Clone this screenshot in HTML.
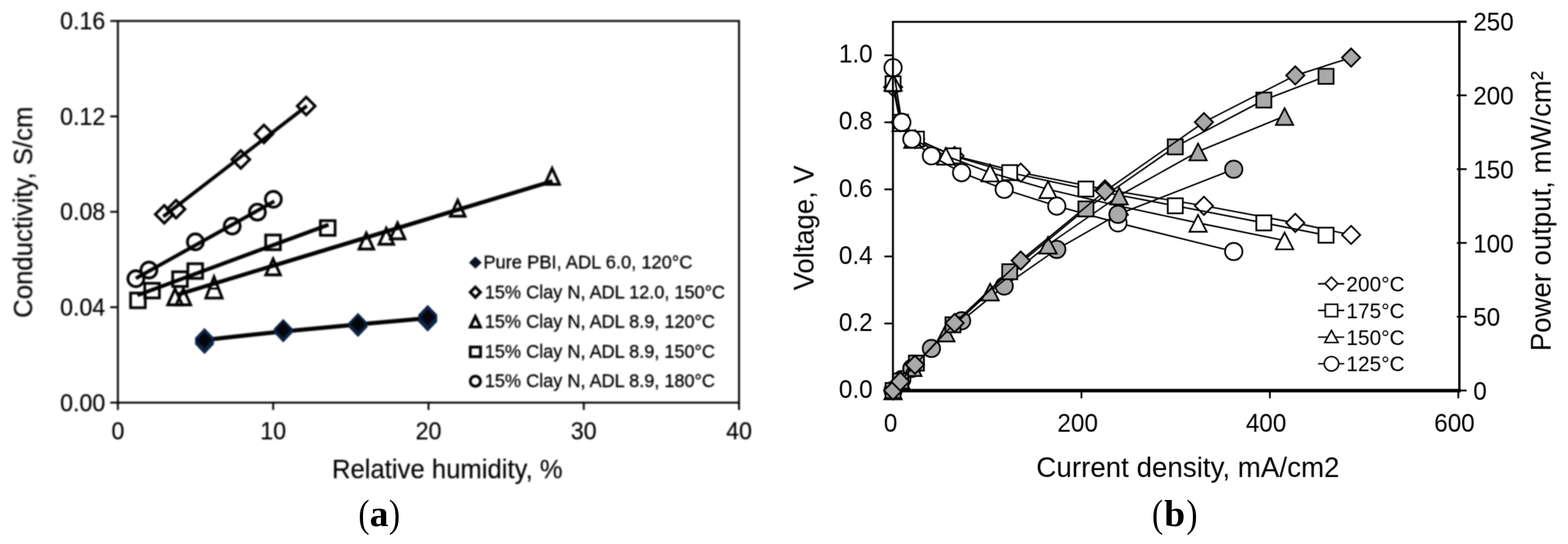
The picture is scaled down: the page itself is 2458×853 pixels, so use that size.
<!DOCTYPE html>
<html lang="en">
<head>
<meta charset="utf-8">
<title>Figure: conductivity and polarization curves</title>
<style>
html,body{margin:0;padding:0;background:#ffffff;}
body{width:2458px;height:853px;overflow:hidden;}
svg{display:block;font-family:'Liberation Sans', sans-serif;}
</style>
</head>
<body>
<svg width="2458" height="853" viewBox="0 0 2458 853">
<defs>
<filter id="soften" filterUnits="userSpaceOnUse" x="1200" y="0" width="1258" height="780" color-interpolation-filters="sRGB">
<feConvolveMatrix order="3" kernelMatrix="0 1 0 1 4 1 0 1 0" divisor="8" edgeMode="duplicate" preserveAlpha="false"/>
</filter>
</defs>
<rect x="0" y="0" width="2458" height="853" fill="#ffffff"/>
<g id="chart-a" style="filter:blur(1px)">
<rect x="184.8" y="32.9" width="973.7" height="598.4" fill="none" stroke="#000000" stroke-width="3"/>
<line x1="172.8" y1="631.3" x2="184.8" y2="631.3" stroke="#000000" stroke-width="3"/>
<text transform="translate(165,644.5) scale(1,1.06)" text-anchor="end" font-size="36.4" fill="#000000" stroke="#000" stroke-width="0.22" stroke-linejoin="round">0.00</text>
<line x1="172.8" y1="481.7" x2="184.8" y2="481.7" stroke="#000000" stroke-width="3"/>
<text transform="translate(165,494.9) scale(1,1.06)" text-anchor="end" font-size="36.4" fill="#000000" stroke="#000" stroke-width="0.22" stroke-linejoin="round">0.04</text>
<line x1="172.8" y1="332.1" x2="184.8" y2="332.1" stroke="#000000" stroke-width="3"/>
<text transform="translate(165,345.3) scale(1,1.06)" text-anchor="end" font-size="36.4" fill="#000000" stroke="#000" stroke-width="0.22" stroke-linejoin="round">0.08</text>
<line x1="172.8" y1="182.5" x2="184.8" y2="182.5" stroke="#000000" stroke-width="3"/>
<text transform="translate(165,195.7) scale(1,1.06)" text-anchor="end" font-size="36.4" fill="#000000" stroke="#000" stroke-width="0.22" stroke-linejoin="round">0.12</text>
<line x1="172.8" y1="32.9" x2="184.8" y2="32.9" stroke="#000000" stroke-width="3"/>
<text transform="translate(165,46.1) scale(1,1.06)" text-anchor="end" font-size="36.4" fill="#000000" stroke="#000" stroke-width="0.22" stroke-linejoin="round">0.16</text>
<line x1="184.8" y1="631.3" x2="184.8" y2="642.8" stroke="#000000" stroke-width="3"/>
<text transform="translate(184.8,689) scale(1,1.06)" text-anchor="middle" font-size="36.4" fill="#000000" stroke="#000" stroke-width="0.22" stroke-linejoin="round">0</text>
<line x1="428.2" y1="631.3" x2="428.2" y2="642.8" stroke="#000000" stroke-width="3"/>
<text transform="translate(428.2,689) scale(1,1.06)" text-anchor="middle" font-size="36.4" fill="#000000" stroke="#000" stroke-width="0.22" stroke-linejoin="round">10</text>
<line x1="671.7" y1="631.3" x2="671.7" y2="642.8" stroke="#000000" stroke-width="3"/>
<text transform="translate(671.7,689) scale(1,1.06)" text-anchor="middle" font-size="36.4" fill="#000000" stroke="#000" stroke-width="0.22" stroke-linejoin="round">20</text>
<line x1="915.1" y1="631.3" x2="915.1" y2="642.8" stroke="#000000" stroke-width="3"/>
<text transform="translate(915.1,689) scale(1,1.06)" text-anchor="middle" font-size="36.4" fill="#000000" stroke="#000" stroke-width="0.22" stroke-linejoin="round">30</text>
<line x1="1158.5" y1="631.3" x2="1158.5" y2="642.8" stroke="#000000" stroke-width="3"/>
<text transform="translate(1158.5,689) scale(1,1.06)" text-anchor="middle" font-size="36.4" fill="#000000" stroke="#000" stroke-width="0.22" stroke-linejoin="round">40</text>
<text transform="translate(520.4,750.3) scale(1,1.04)" font-size="40.1" textLength="361.6" lengthAdjust="spacing" fill="#000000" stroke="#000" stroke-width="0.22" stroke-linejoin="round">Relative humidity, %</text>
<text transform="translate(51,332.7) rotate(-90) scale(1,1.04)" text-anchor="middle" font-size="40.4" fill="#000000" stroke="#000" stroke-width="0.22" stroke-linejoin="round">Conductivity, S/cm</text>
<polyline points="320.6,533.0 332.8,531.7 380,526.5 431.3,521.0 500,514.5 580,507.0 655.4,500.2 670.5,498.9" fill="none" stroke="#000000" stroke-width="6.6" stroke-linejoin="round"/>
<line x1="256" y1="339.5" x2="481" y2="166" stroke="#000000" stroke-width="5.5" stroke-linecap="butt"/>
<line x1="213" y1="436.5" x2="430" y2="315.5" stroke="#000000" stroke-width="5.7" stroke-linecap="butt"/>
<line x1="215.5" y1="463" x2="515" y2="352.3" stroke="#000000" stroke-width="6.1" stroke-linecap="butt"/>
<line x1="278.5" y1="462" x2="866" y2="284" stroke="#000000" stroke-width="6.4" stroke-linecap="butt"/>
<path d="M243.5,336 L257.5,322 L271.5,336 L257.5,350 Z" fill="none" stroke="#000000" stroke-width="4.3"/>
<path d="M262,328 L276,314 L290,328 L276,342 Z" fill="none" stroke="#000000" stroke-width="4.3"/>
<path d="M363.5,250 L377.5,236 L391.5,250 L377.5,264 Z" fill="none" stroke="#000000" stroke-width="4.3"/>
<path d="M399.75,210 L413.75,196 L427.75,210 L413.75,224 Z" fill="none" stroke="#000000" stroke-width="4.3"/>
<path d="M466,166.3 L480,152.3 L494,166.3 L480,180.3 Z" fill="none" stroke="#000000" stroke-width="4.3"/>
<circle cx="213" cy="437" r="12.5" fill="none" stroke="#000000" stroke-width="4.3"/>
<circle cx="233.5" cy="423.5" r="12.5" fill="none" stroke="#000000" stroke-width="4.3"/>
<circle cx="306.25" cy="379.25" r="12.5" fill="none" stroke="#000000" stroke-width="4.3"/>
<circle cx="364" cy="354.5" r="12.5" fill="none" stroke="#000000" stroke-width="4.3"/>
<circle cx="403.5" cy="332.7" r="12.5" fill="none" stroke="#000000" stroke-width="4.3"/>
<circle cx="428.5" cy="312.5" r="12.5" fill="none" stroke="#000000" stroke-width="4.3"/>
<rect x="204.7" y="459.5" width="23.0" height="23.0" fill="none" stroke="#000000" stroke-width="4.3"/>
<rect x="226.9" y="444.2" width="23.0" height="23.0" fill="none" stroke="#000000" stroke-width="4.3"/>
<rect x="270.7" y="426.2" width="23.0" height="23.0" fill="none" stroke="#000000" stroke-width="4.3"/>
<rect x="294.5" y="413.5" width="23.0" height="23.0" fill="none" stroke="#000000" stroke-width="4.3"/>
<rect x="416.5" y="368.5" width="23.0" height="23.0" fill="none" stroke="#000000" stroke-width="4.3"/>
<rect x="502.25" y="346.0" width="23.0" height="23.0" fill="none" stroke="#000000" stroke-width="4.3"/>
<path d="M274.4,453.0 L285.9,478.0 L262.9,478.0 Z" fill="none" stroke="#000000" stroke-width="4.3" stroke-linejoin="miter"/>
<path d="M287.5,453.0 L299.0,478.0 L276.0,478.0 Z" fill="none" stroke="#000000" stroke-width="4.3" stroke-linejoin="miter"/>
<path d="M428.1,406.0 L439.6,431.0 L416.6,431.0 Z" fill="none" stroke="#000000" stroke-width="4.3" stroke-linejoin="miter"/>
<path d="M574.2,365.5 L585.8,390.5 L562.8,390.5 Z" fill="none" stroke="#000000" stroke-width="4.3" stroke-linejoin="miter"/>
<path d="M605.5,358.0 L617.0,383.0 L594.0,383.0 Z" fill="none" stroke="#000000" stroke-width="4.3" stroke-linejoin="miter"/>
<path d="M623.2,349.5 L634.8,374.5 L611.8,374.5 Z" fill="none" stroke="#000000" stroke-width="4.3" stroke-linejoin="miter"/>
<path d="M717.5,314.0 L729.0,339.0 L706.0,339.0 Z" fill="none" stroke="#000000" stroke-width="4.3" stroke-linejoin="miter"/>
<path d="M865.5,264.0 L877.0,289.0 L854.0,289.0 Z" fill="none" stroke="#000000" stroke-width="4.3" stroke-linejoin="miter"/>
<path d="M335.5,433.9 L348.3,467.4 L322.7,467.4 Z" fill="none" stroke="#000000" stroke-width="4.3" stroke-linejoin="miter"/>
<line x1="328" y1="452.5" x2="343" y2="452.5" stroke="#000000" stroke-width="3"/>
<path d="M305.8,529.7 L320.6,514.2 L335.40000000000003,529.7 L335.40000000000003,539.7 L320.6,555.2 L305.8,539.7 Z" fill="#0c2346"/>
<path d="M308.6,533.2 L320.6,520.7 L332.6,533.2 L320.6,545.7 Z" fill="#04060c"/>
<path d="M429.2,515.5 L444,500.0 L458.8,515.5 L458.8,521.5 L444,537.0 L429.2,521.5 Z" fill="#0c2346"/>
<path d="M432,517.0 L444,504.5 L456,517.0 L444,529.5 Z" fill="#04060c"/>
<path d="M546.4000000000001,505.9 L561.2,490.4 L576.0,505.9 L576.0,512.9 L561.2,528.4 L546.4000000000001,512.9 Z" fill="#0c2346"/>
<path d="M549.2,507.9 L561.2,495.4 L573.2,507.9 L561.2,520.4 Z" fill="#04060c"/>
<path d="M655.7,493.4 L670.5,477.9 L685.3,493.4 L685.3,504.4 L670.5,519.9 L655.7,504.4 Z" fill="#0c2346"/>
<path d="M658.5,497.4 L670.5,484.9 L682.5,497.4 L670.5,509.9 Z" fill="#04060c"/>
<path d="M735.2,411.7 L745.2,402.2 L755.2,411.7 L745.2,421.2 Z" fill="#081226"/>
<text transform="translate(757.7,421.0) scale(1,1.04)" font-size="28.7" fill="#000000" stroke="#000" stroke-width="0.42" stroke-linejoin="round">Pure PBI, ADL 6.0, 120°C</text>
<path d="M737.2,458.2 L745.2,450.2 L753.2,458.2 L745.2,466.2 Z" fill="none" stroke="#000000" stroke-width="4.5"/>
<text transform="translate(760,467.5) scale(1,1.04)" font-size="28.4" fill="#000000" stroke="#000" stroke-width="0.42" stroke-linejoin="round">15% Clay N, ADL 12.0, 150°C</text>
<path d="M745.2,496.2 L753.2,512.7 L737.2,512.7 Z" fill="none" stroke="#000000" stroke-width="4.5"/>
<text transform="translate(760,514.0) scale(1,1.04)" font-size="28.4" fill="#000000" stroke="#000" stroke-width="0.42" stroke-linejoin="round">15% Clay N, ADL 8.9, 120°C</text>
<rect x="737.2" y="544.2" width="16" height="15" fill="none" stroke="#000000" stroke-width="4.5"/>
<text transform="translate(760,560.5) scale(1,1.04)" font-size="28.4" fill="#000000" stroke="#000" stroke-width="0.42" stroke-linejoin="round">15% Clay N, ADL 8.9, 150°C</text>
<circle cx="745.2" cy="597.7" r="8" fill="none" stroke="#000000" stroke-width="4.5"/>
<text transform="translate(760,607.0) scale(1,1.04)" font-size="28.4" fill="#000000" stroke="#000" stroke-width="0.42" stroke-linejoin="round">15% Clay N, ADL 8.9, 180°C</text>
</g>
<g id="chart-b" filter="url(#soften)">
<text transform="translate(1368.0,623.9) scale(1,1.06)" text-anchor="end" font-size="38.1" fill="#000000">0.0</text>
<text transform="translate(1368.0,518.8) scale(1,1.06)" text-anchor="end" font-size="38.1" fill="#000000">0.2</text>
<text transform="translate(1368.0,413.7) scale(1,1.06)" text-anchor="end" font-size="38.1" fill="#000000">0.4</text>
<text transform="translate(1368.0,308.5) scale(1,1.06)" text-anchor="end" font-size="38.1" fill="#000000">0.6</text>
<text transform="translate(1368.0,203.4) scale(1,1.06)" text-anchor="end" font-size="38.1" fill="#000000">0.8</text>
<text transform="translate(1368.0,98.3) scale(1,1.06)" text-anchor="end" font-size="38.1" fill="#000000">1.0</text>
<text transform="translate(2309.4,626.9) scale(1,1.06)" font-size="38.1" fill="#000000">0</text>
<text transform="translate(2309.4,511.2) scale(1,1.06)" font-size="38.1" fill="#000000">50</text>
<text transform="translate(2309.4,395.5) scale(1,1.06)" font-size="38.1" fill="#000000">100</text>
<text transform="translate(2309.4,279.8) scale(1,1.06)" font-size="38.1" fill="#000000">150</text>
<text transform="translate(2309.4,164.1) scale(1,1.06)" font-size="38.1" fill="#000000">200</text>
<text transform="translate(2309.4,48.4) scale(1,1.06)" font-size="38.1" fill="#000000">250</text>
<text transform="translate(1396.0,677.3) scale(1,1.06)" text-anchor="middle" font-size="38.1" fill="#000000">0</text>
<text transform="translate(1689.3,677.3) scale(1,1.06)" text-anchor="middle" font-size="38.1" fill="#000000">200</text>
<text transform="translate(1984.7,677.3) scale(1,1.06)" text-anchor="middle" font-size="38.1" fill="#000000">400</text>
<text transform="translate(2280.0,677.3) scale(1,1.06)" text-anchor="middle" font-size="38.1" fill="#000000">600</text>
<text transform="translate(1862.2,747.8) scale(1,1.04)" text-anchor="middle" font-size="43.5" fill="#000000">Current density, mA/cm2</text>
<text transform="translate(1275,357.3) rotate(-90) scale(1,1.04)" text-anchor="middle" font-size="43" fill="#000000">Voltage, V</text>
<text transform="translate(2430.5,331.1) rotate(-90) scale(1,1.04)" text-anchor="middle" font-size="43.2" fill="#000000">Power output, mW/cm²</text>
<polyline points="1400.0,136.6 1411.2,191.8 1434.3,218.1 1496.4,244.4 1600.1,270.7 1732.2,296.9 1887.3,322.7 2030.5,349.5 2118.0,368.4" fill="none" stroke="#000000" stroke-width="2.35" stroke-linejoin="round"/>
<path d="M1385.7,136.6 L1400.0,122.3 L1414.3,136.6 L1400.0,150.9 Z" fill="#ffffff" stroke="#000000" stroke-width="2.7"/>
<path d="M1396.9,191.8 L1411.2,177.5 L1425.5,191.8 L1411.2,206.1 Z" fill="#ffffff" stroke="#000000" stroke-width="2.7"/>
<path d="M1420.0,218.1 L1434.3,203.8 L1448.6,218.1 L1434.3,232.4 Z" fill="#ffffff" stroke="#000000" stroke-width="2.7"/>
<path d="M1482.1,244.4 L1496.4,230.1 L1510.7,244.4 L1496.4,258.7 Z" fill="#ffffff" stroke="#000000" stroke-width="2.7"/>
<path d="M1585.8,270.7 L1600.1,256.4 L1614.4,270.7 L1600.1,285.0 Z" fill="#ffffff" stroke="#000000" stroke-width="2.7"/>
<path d="M1718.0,296.9 L1732.2,282.6 L1746.5,296.9 L1732.2,311.2 Z" fill="#ffffff" stroke="#000000" stroke-width="2.7"/>
<path d="M1873.0,322.7 L1887.3,308.4 L1901.6,322.7 L1887.3,337.0 Z" fill="#ffffff" stroke="#000000" stroke-width="2.7"/>
<path d="M2016.2,349.5 L2030.5,335.2 L2044.8,349.5 L2030.5,363.8 Z" fill="#ffffff" stroke="#000000" stroke-width="2.7"/>
<path d="M2103.7,368.4 L2118.0,354.1 L2132.3,368.4 L2118.0,382.7 Z" fill="#ffffff" stroke="#000000" stroke-width="2.7"/>
<polyline points="1400.0,131.4 1411.8,191.8 1436.6,218.1 1493.9,244.4 1582.8,270.7 1702.3,296.4 1842.4,322.7 1981.2,349.5 2078.7,368.8" fill="none" stroke="#000000" stroke-width="2.35" stroke-linejoin="round"/>
<rect x="1388.2" y="119.6" width="23.6" height="23.6" fill="#ffffff" stroke="#000000" stroke-width="2.7"/>
<rect x="1400.0" y="180.0" width="23.6" height="23.6" fill="#ffffff" stroke="#000000" stroke-width="2.7"/>
<rect x="1424.8" y="206.3" width="23.6" height="23.6" fill="#ffffff" stroke="#000000" stroke-width="2.7"/>
<rect x="1482.1" y="232.6" width="23.6" height="23.6" fill="#ffffff" stroke="#000000" stroke-width="2.7"/>
<rect x="1571.0" y="258.9" width="23.6" height="23.6" fill="#ffffff" stroke="#000000" stroke-width="2.7"/>
<rect x="1690.5" y="284.6" width="23.6" height="23.6" fill="#ffffff" stroke="#000000" stroke-width="2.7"/>
<rect x="1830.6" y="310.9" width="23.6" height="23.6" fill="#ffffff" stroke="#000000" stroke-width="2.7"/>
<rect x="1969.4" y="337.7" width="23.6" height="23.6" fill="#ffffff" stroke="#000000" stroke-width="2.7"/>
<rect x="2066.9" y="357.0" width="23.6" height="23.6" fill="#ffffff" stroke="#000000" stroke-width="2.7"/>
<polyline points="1400.0,128.7 1412.6,191.8 1431.0,218.1 1482.7,244.4 1552.1,270.7 1642.9,296.9 1754.4,323.2 1878.1,349.5 2013.7,377.2" fill="none" stroke="#000000" stroke-width="2.35" stroke-linejoin="round"/>
<path d="M1400.0,116.2 L1413.6,142.5 L1386.4,142.5 Z" fill="#ffffff" stroke="#000000" stroke-width="2.7"/>
<path d="M1412.6,179.3 L1426.2,205.6 L1399.0,205.6 Z" fill="#ffffff" stroke="#000000" stroke-width="2.7"/>
<path d="M1431.0,205.6 L1444.6,231.9 L1417.4,231.9 Z" fill="#ffffff" stroke="#000000" stroke-width="2.7"/>
<path d="M1482.7,231.9 L1496.3,258.2 L1469.1,258.2 Z" fill="#ffffff" stroke="#000000" stroke-width="2.7"/>
<path d="M1552.1,258.2 L1565.7,284.5 L1538.5,284.5 Z" fill="#ffffff" stroke="#000000" stroke-width="2.7"/>
<path d="M1642.9,284.4 L1656.5,310.7 L1629.3,310.7 Z" fill="#ffffff" stroke="#000000" stroke-width="2.7"/>
<path d="M1754.4,310.7 L1768.0,337.0 L1740.8,337.0 Z" fill="#ffffff" stroke="#000000" stroke-width="2.7"/>
<path d="M1878.1,337.0 L1891.7,363.3 L1864.5,363.3 Z" fill="#ffffff" stroke="#000000" stroke-width="2.7"/>
<path d="M2013.7,364.7 L2027.3,391.0 L2000.1,391.0 Z" fill="#ffffff" stroke="#000000" stroke-width="2.7"/>
<polyline points="1400.0,106.1 1413.7,191.8 1429.4,218.1 1460.1,244.4 1507.4,270.7 1574.2,296.9 1656.6,323.2 1752.5,349.5 1934.0,394.4" fill="none" stroke="#000000" stroke-width="2.35" stroke-linejoin="round"/>
<circle cx="1400.0" cy="106.1" r="13.6" fill="#ffffff" stroke="#000000" stroke-width="2.7"/>
<circle cx="1413.7" cy="191.8" r="13.6" fill="#ffffff" stroke="#000000" stroke-width="2.7"/>
<circle cx="1429.4" cy="218.1" r="13.6" fill="#ffffff" stroke="#000000" stroke-width="2.7"/>
<circle cx="1460.1" cy="244.4" r="13.6" fill="#ffffff" stroke="#000000" stroke-width="2.7"/>
<circle cx="1507.4" cy="270.7" r="13.6" fill="#ffffff" stroke="#000000" stroke-width="2.7"/>
<circle cx="1574.2" cy="296.9" r="13.6" fill="#ffffff" stroke="#000000" stroke-width="2.7"/>
<circle cx="1656.6" cy="323.2" r="13.6" fill="#ffffff" stroke="#000000" stroke-width="2.7"/>
<circle cx="1752.5" cy="349.5" r="13.6" fill="#ffffff" stroke="#000000" stroke-width="2.7"/>
<circle cx="1934.0" cy="394.4" r="13.6" fill="#ffffff" stroke="#000000" stroke-width="2.7"/>
<path d="M1399.8,612.5 L1399.8,34.2 L2298.7,34.2" fill="none" stroke="#000000" stroke-width="3.1"/>
<line x1="1386.3" y1="612.3" x2="1399.8" y2="612.3" stroke="#000000" stroke-width="2.8"/>
<line x1="1386.3" y1="507.2" x2="1399.8" y2="507.2" stroke="#000000" stroke-width="2.8"/>
<line x1="1386.3" y1="402.1" x2="1399.8" y2="402.1" stroke="#000000" stroke-width="2.8"/>
<line x1="1386.3" y1="296.9" x2="1399.8" y2="296.9" stroke="#000000" stroke-width="2.8"/>
<line x1="1386.3" y1="191.8" x2="1399.8" y2="191.8" stroke="#000000" stroke-width="2.8"/>
<line x1="1386.3" y1="86.7" x2="1399.8" y2="86.7" stroke="#000000" stroke-width="2.8"/>
<line x1="2283.7" y1="612.3" x2="2299.2" y2="612.3" stroke="#000000" stroke-width="2.8"/>
<line x1="2283.7" y1="496.6" x2="2299.2" y2="496.6" stroke="#000000" stroke-width="2.8"/>
<line x1="2283.7" y1="380.9" x2="2299.2" y2="380.9" stroke="#000000" stroke-width="2.8"/>
<line x1="2283.7" y1="265.2" x2="2299.2" y2="265.2" stroke="#000000" stroke-width="2.8"/>
<line x1="2283.7" y1="149.5" x2="2299.2" y2="149.5" stroke="#000000" stroke-width="2.8"/>
<line x1="2283.7" y1="33.8" x2="2299.2" y2="33.8" stroke="#000000" stroke-width="2.8"/>
<line x1="1400.0" y1="612.5" x2="1400.0" y2="624.5" stroke="#000000" stroke-width="2.8"/>
<line x1="1695.3" y1="612.5" x2="1695.3" y2="624.5" stroke="#000000" stroke-width="2.8"/>
<line x1="1990.7" y1="612.5" x2="1990.7" y2="624.5" stroke="#000000" stroke-width="2.8"/>
<line x1="2286.0" y1="612.5" x2="2286.0" y2="624.5" stroke="#000000" stroke-width="2.8"/>
<line x1="1399.8" y1="612.5" x2="2289.7" y2="612.5" stroke="#000000" stroke-width="5.5"/>
<line x1="2287.7" y1="32.800000000000004" x2="2287.7" y2="615.2" stroke="#000000" stroke-width="3.6"/>
<polyline points="1400.0,612.3 1413.7,595.1 1429.4,577.8 1460.1,546.4 1507.4,503.0 1574.2,448.5 1656.6,391.1 1752.5,336.1 1934.0,265.4" fill="none" stroke="#000000" stroke-width="2.35" stroke-linejoin="round"/>
<circle cx="1400.0" cy="612.3" r="13.6" fill="#a9a9a9" stroke="#000000" stroke-width="2.7"/>
<circle cx="1413.7" cy="595.1" r="13.6" fill="#a9a9a9" stroke="#000000" stroke-width="2.7"/>
<circle cx="1429.4" cy="577.8" r="13.6" fill="#a9a9a9" stroke="#000000" stroke-width="2.7"/>
<circle cx="1460.1" cy="546.4" r="13.6" fill="#a9a9a9" stroke="#000000" stroke-width="2.7"/>
<circle cx="1507.4" cy="503.0" r="13.6" fill="#a9a9a9" stroke="#000000" stroke-width="2.7"/>
<circle cx="1574.2" cy="448.5" r="13.6" fill="#a9a9a9" stroke="#000000" stroke-width="2.7"/>
<circle cx="1656.6" cy="391.1" r="13.6" fill="#a9a9a9" stroke="#000000" stroke-width="2.7"/>
<circle cx="1752.5" cy="336.1" r="13.6" fill="#a9a9a9" stroke="#000000" stroke-width="2.7"/>
<circle cx="1934.0" cy="265.4" r="13.6" fill="#a9a9a9" stroke="#000000" stroke-width="2.7"/>
<polyline points="1400.0,612.3 1412.6,596.6 1431.0,575.9 1482.7,521.6 1552.1,457.4 1642.9,383.9 1754.4,306.9 1878.1,237.7 2013.7,182.1" fill="none" stroke="#000000" stroke-width="2.35" stroke-linejoin="round"/>
<path d="M1400.0,599.8 L1413.6,626.1 L1386.4,626.1 Z" fill="#a9a9a9" stroke="#000000" stroke-width="2.7"/>
<path d="M1412.6,584.1 L1426.2,610.4 L1399.0,610.4 Z" fill="#a9a9a9" stroke="#000000" stroke-width="2.7"/>
<path d="M1431.0,563.4 L1444.6,589.7 L1417.4,589.7 Z" fill="#a9a9a9" stroke="#000000" stroke-width="2.7"/>
<path d="M1482.7,509.1 L1496.3,535.4 L1469.1,535.4 Z" fill="#a9a9a9" stroke="#000000" stroke-width="2.7"/>
<path d="M1552.1,444.9 L1565.7,471.2 L1538.5,471.2 Z" fill="#a9a9a9" stroke="#000000" stroke-width="2.7"/>
<path d="M1642.9,371.4 L1656.5,397.7 L1629.3,397.7 Z" fill="#a9a9a9" stroke="#000000" stroke-width="2.7"/>
<path d="M1754.4,294.4 L1768.0,320.7 L1740.8,320.7 Z" fill="#a9a9a9" stroke="#000000" stroke-width="2.7"/>
<path d="M1878.1,225.2 L1891.7,251.5 L1864.5,251.5 Z" fill="#a9a9a9" stroke="#000000" stroke-width="2.7"/>
<path d="M2013.7,169.6 L2027.3,195.9 L2000.1,195.9 Z" fill="#a9a9a9" stroke="#000000" stroke-width="2.7"/>
<polyline points="1400.0,612.3 1411.8,597.5 1436.6,569.3 1493.9,509.3 1582.8,426.1 1702.3,327.6 1842.4,230.3 1981.2,156.9 2078.7,119.7" fill="none" stroke="#000000" stroke-width="2.35" stroke-linejoin="round"/>
<rect x="1388.2" y="600.5" width="23.6" height="23.6" fill="#a9a9a9" stroke="#000000" stroke-width="2.7"/>
<rect x="1400.0" y="585.7" width="23.6" height="23.6" fill="#a9a9a9" stroke="#000000" stroke-width="2.7"/>
<rect x="1424.8" y="557.5" width="23.6" height="23.6" fill="#a9a9a9" stroke="#000000" stroke-width="2.7"/>
<rect x="1482.1" y="497.5" width="23.6" height="23.6" fill="#a9a9a9" stroke="#000000" stroke-width="2.7"/>
<rect x="1571.0" y="414.3" width="23.6" height="23.6" fill="#a9a9a9" stroke="#000000" stroke-width="2.7"/>
<rect x="1690.5" y="315.8" width="23.6" height="23.6" fill="#a9a9a9" stroke="#000000" stroke-width="2.7"/>
<rect x="1830.6" y="218.5" width="23.6" height="23.6" fill="#a9a9a9" stroke="#000000" stroke-width="2.7"/>
<rect x="1969.4" y="145.1" width="23.6" height="23.6" fill="#a9a9a9" stroke="#000000" stroke-width="2.7"/>
<rect x="2066.9" y="107.9" width="23.6" height="23.6" fill="#a9a9a9" stroke="#000000" stroke-width="2.7"/>
<polyline points="1400.0,612.3 1411.2,598.2 1434.3,572.0 1496.4,506.5 1600.1,408.5 1732.2,299.9 1887.3,191.5 2030.5,118.3 2118.0,90.3" fill="none" stroke="#000000" stroke-width="2.35" stroke-linejoin="round"/>
<path d="M1385.7,612.3 L1400.0,598.0 L1414.3,612.3 L1400.0,626.6 Z" fill="#a9a9a9" stroke="#000000" stroke-width="2.7"/>
<path d="M1396.9,598.2 L1411.2,583.9 L1425.5,598.2 L1411.2,612.5 Z" fill="#a9a9a9" stroke="#000000" stroke-width="2.7"/>
<path d="M1420.0,572.0 L1434.3,557.7 L1448.6,572.0 L1434.3,586.3 Z" fill="#a9a9a9" stroke="#000000" stroke-width="2.7"/>
<path d="M1482.1,506.5 L1496.4,492.2 L1510.7,506.5 L1496.4,520.8 Z" fill="#a9a9a9" stroke="#000000" stroke-width="2.7"/>
<path d="M1585.8,408.5 L1600.1,394.2 L1614.4,408.5 L1600.1,422.8 Z" fill="#a9a9a9" stroke="#000000" stroke-width="2.7"/>
<path d="M1718.0,299.9 L1732.2,285.6 L1746.5,299.9 L1732.2,314.2 Z" fill="#a9a9a9" stroke="#000000" stroke-width="2.7"/>
<path d="M1873.0,191.5 L1887.3,177.2 L1901.6,191.5 L1887.3,205.8 Z" fill="#a9a9a9" stroke="#000000" stroke-width="2.7"/>
<path d="M2016.2,118.3 L2030.5,104.0 L2044.8,118.3 L2030.5,132.6 Z" fill="#a9a9a9" stroke="#000000" stroke-width="2.7"/>
<path d="M2103.7,90.3 L2118.0,76.0 L2132.3,90.3 L2118.0,104.6 Z" fill="#a9a9a9" stroke="#000000" stroke-width="2.7"/>
<line x1="2066.2" y1="445.0" x2="2107.2" y2="445.0" stroke="#000000" stroke-width="2.4"/>
<path d="M2077.3999999999996,444.7 L2087.2,434.4 L2097.0,444.7 L2087.2,455.0 Z" fill="#fff" stroke="#000000" stroke-width="2.4"/>
<text transform="translate(2110.6,457.0) scale(1,1.04)" font-size="32.7" fill="#000000">200°C</text>
<line x1="2066.2" y1="486.8" x2="2107.2" y2="486.8" stroke="#000000" stroke-width="2.4"/>
<rect x="2077.5" y="477.1" width="19.4" height="19.4" fill="#fff" stroke="#000000" stroke-width="2.4"/>
<text transform="translate(2110.6,498.8) scale(1,1.04)" font-size="32.7" fill="#000000">175°C</text>
<line x1="2066.2" y1="528.6" x2="2107.2" y2="528.6" stroke="#000000" stroke-width="2.4"/>
<path d="M2087.2,518.1 L2097.7,537.1 L2076.7,537.1 Z" fill="#fff" stroke="#000000" stroke-width="2.4"/>
<text transform="translate(2110.6,540.6) scale(1,1.04)" font-size="32.7" fill="#000000">150°C</text>
<line x1="2066.2" y1="570.4" x2="2107.2" y2="570.4" stroke="#000000" stroke-width="2.4"/>
<circle cx="2087.2" cy="570.4" r="11.3" fill="#fff" stroke="#000000" stroke-width="2.4"/>
<text transform="translate(2110.6,582.4) scale(1,1.04)" font-size="32.7" fill="#000000">125°C</text>
</g>
<text x="561.8" y="824.5" font-family="'Liberation Serif', serif" font-size="59" fill="#000"><tspan font-size="62" dy="1" textLength="17.5" lengthAdjust="spacingAndGlyphs">(</tspan><tspan font-weight="bold" dy="-1" dx="0.3">a</tspan><tspan font-size="62" dy="1" dx="0.6" textLength="17.5" lengthAdjust="spacingAndGlyphs">)</tspan></text>
<text x="1805.8" y="824.5" font-family="'Liberation Serif', serif" font-size="59" fill="#000"><tspan font-size="62" dy="1" textLength="17.5" lengthAdjust="spacingAndGlyphs">(</tspan><tspan font-weight="bold" dy="-1" dx="1.6">b</tspan><tspan font-size="62" dy="1" dx="1.9000000000000001" textLength="17.5" lengthAdjust="spacingAndGlyphs">)</tspan></text>
</svg>
</body>
</html>
